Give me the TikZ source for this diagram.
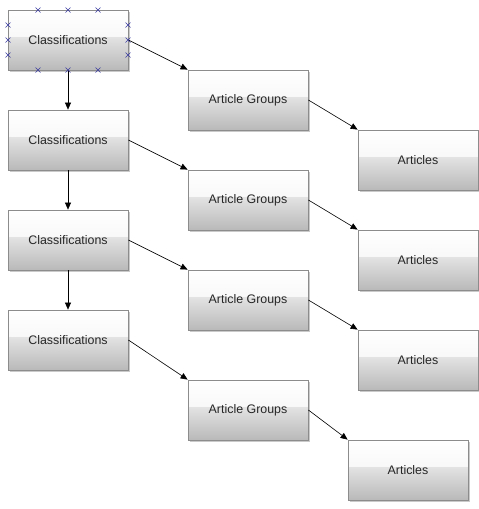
\documentclass[tikz,border=0pt]{standalone}
\usepackage{fontspec}
\setmainfont{Liberation Sans}
\usetikzlibrary{arrows.meta,shadows}
\definecolor{boxborder}{HTML}{8C8C8C}
\definecolor{selblue}{HTML}{3A3AA0}
\tikzset{
  glossbox/.style={minimum width=120pt, minimum height=60pt, inner sep=0pt,
    draw=boxborder, line width=0.8pt, font=\fontsize{12.4}{14}\selectfont,
    text=black!85,
    drop shadow={shadow xshift=2pt, shadow yshift=-2pt, fill=black!35, opacity=0.6},
    path picture={
      \fill[top color=white, bottom color=gray!12]
        (path picture bounding box.north west) rectangle ([yshift=-0.45*60pt]path picture bounding box.north east);
      \fill[top color=gray!22, bottom color=gray!55]
        ([yshift=-0.45*60pt]path picture bounding box.north west) rectangle (path picture bounding box.south east);
    }},
  link/.style={-{Triangle[length=7pt,width=6pt]}, line width=0.6pt, black},
  selmark/.style={selblue, line width=0.5pt}
}
\begin{document}
\begin{tikzpicture}[x=1pt,y=-1pt]
\useasboundingbox (0,0) rectangle (479,509);
\node[glossbox] (c1) at (68,40) {Classifications};
\node[glossbox] (c2) at (68,140) {Classifications};
\node[glossbox] (c3) at (68,240) {Classifications};
\node[glossbox] (c4) at (68,340) {Classifications};
\node[glossbox] (g1) at (248,100) {Article Groups};
\node[glossbox] (g2) at (248,200) {Article Groups};
\node[glossbox] (g3) at (248,300) {Article Groups};
\node[glossbox] (g4) at (248,410) {Article Groups};
\node[glossbox] (a1) at (418,160) {Articles};
\node[glossbox] (a2) at (418,260) {Articles};
\node[glossbox] (a3) at (418,360) {Articles};
\node[glossbox] (a4) at (408,470) {Articles};
\foreach \c/\g/\a in {c1/g1/a1,c2/g2/a2,c3/g3/a3,c4/g4/a4}{
  \draw[link] (\c.east) -- (\g.north west);
  \draw[link] (\g.east) -- (\a.north west);
}
\draw[link] (c1.south) -- (c2.north);
\draw[link] (c2.south) -- (c3.north);
\draw[link] (c3.south) -- (c4.north);
% selection markers
\foreach \p in {(38,10),(68,10),(98,10),(38,70),(68,70),(98,70),
                (8,25),(8,40),(8,55),(128,25),(128,40),(128,55)}{
  \draw[selmark] \p ++(-2.5,-2.5) -- ++(5,5) \p ++(-2.5,2.5) -- ++(5,-5);
}
\end{tikzpicture}
\end{document}
